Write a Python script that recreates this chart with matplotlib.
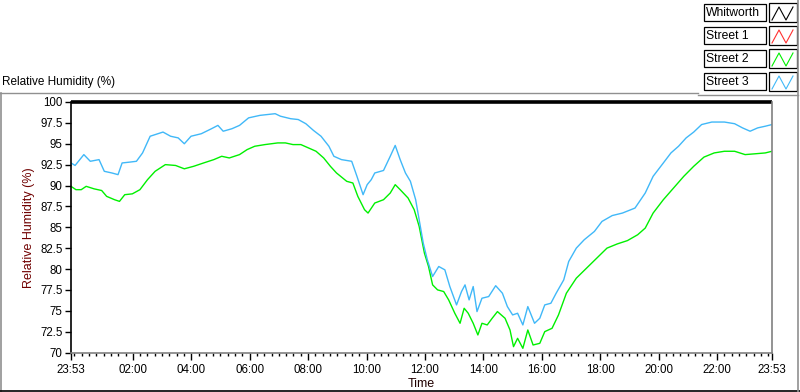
import matplotlib
matplotlib.use("Agg")
import matplotlib.pyplot as plt
from matplotlib.lines import Line2D
from matplotlib.patches import Rectangle

plt.rcParams["font.family"] = ["Liberation Sans", "DejaVu Sans"]
plt.rcParams["font.size"] = 8

# tempo em horas desde 23:53 (0 = 23:53, 24 = 23:53 do dia seguinte)
street3_t = [0.00, 0.14, 0.44, 0.66, 0.96, 1.14, 1.40, 1.61, 1.75, 2.01, 2.24, 2.45,
             2.71, 3.15, 3.41, 3.67, 3.88, 4.11, 4.46, 4.81, 5.03, 5.21, 5.51, 5.77,
             6.08, 6.47, 6.99, 7.17, 7.52, 7.78, 8.04, 8.30, 8.56, 8.83, 9.00, 9.26,
             9.61, 9.79, 10.00, 10.14, 10.28, 10.40, 10.70, 10.93, 11.10, 11.27, 11.45,
             11.62, 11.80, 11.92, 12.06, 12.20, 12.38, 12.59, 12.80, 12.97, 13.20, 13.37,
             13.49, 13.63, 13.77, 13.90, 14.07, 14.30, 14.54, 14.77, 14.94, 15.12, 15.29,
             15.47, 15.64, 15.87, 16.05, 16.22, 16.43, 16.61, 16.87, 17.04, 17.30, 17.57,
             17.92, 18.18, 18.53, 18.88, 19.31, 19.66, 19.93, 20.28, 20.54, 20.80, 21.06,
             21.32, 21.59, 21.94, 22.37, 22.72, 22.99, 23.25, 23.51, 23.77, 24.00]
street3_rh = [92.7, 92.4, 93.7, 92.9, 93.1, 91.7, 91.5, 91.3, 92.7, 92.8, 92.9, 93.9,
              95.9, 96.4, 95.9, 95.7, 95.0, 95.9, 96.2, 96.8, 97.2, 96.5, 96.8, 97.2,
              98.1, 98.4, 98.6, 98.3, 98.0, 97.9, 97.4, 96.6, 95.9, 94.7, 93.5, 93.1,
              92.9, 91.1, 88.9, 90.1, 90.7, 91.5, 91.8, 93.5, 94.8, 93.1, 91.5,
              90.5, 88.3, 85.9, 83.1, 81.1, 79.1, 80.3, 79.9, 77.9, 75.7, 77.3,
              78.1, 76.3, 77.9, 74.9, 76.5, 76.7, 78.0, 77.1, 75.5, 74.5, 74.7,
              73.3, 75.5, 73.5, 74.1, 75.7, 75.9, 77.1, 78.7, 80.9, 82.5, 83.5,
              84.5, 85.7, 86.4, 86.7, 87.3, 89.1, 91.1, 92.7, 93.9, 94.7, 95.7,
              96.4, 97.3, 97.6, 97.6, 97.4, 96.9, 96.5, 96.9, 97.1, 97.3]

street2_t = [0.00, 0.17, 0.35, 0.52, 0.79, 1.05, 1.22, 1.49, 1.66, 1.84, 2.10, 2.36,
             2.62, 2.88, 3.23, 3.58, 3.88, 4.20, 4.54, 4.89, 5.16, 5.42, 5.77, 6.03,
             6.29, 6.64, 7.08, 7.34, 7.60, 7.87, 8.13, 8.39, 8.65, 8.88, 9.09, 9.44,
             9.65, 9.82, 10.05, 10.17, 10.40, 10.70, 10.93, 11.10, 11.27, 11.54, 11.75,
             11.92, 12.10, 12.24, 12.38, 12.55, 12.76, 12.93, 13.14, 13.32, 13.46, 13.60,
             13.77, 13.93, 14.07, 14.25, 14.42, 14.60, 14.86, 15.03, 15.15, 15.29, 15.47,
             15.64, 15.82, 16.05, 16.22, 16.47, 16.69, 16.96, 17.30, 17.65, 18.00, 18.35,
             18.70, 19.05, 19.40, 19.66, 19.93, 20.28, 20.63, 20.98, 21.32, 21.67, 22.02,
             22.37, 22.72, 23.08, 23.43, 23.77, 24.00]
street2_rh = [89.9, 89.5, 89.5, 89.9, 89.6, 89.4, 88.7, 88.3, 88.1, 88.9, 89.0, 89.5,
              90.7, 91.7, 92.5, 92.4, 92.0, 92.3, 92.7, 93.1, 93.5, 93.3, 93.7, 94.3,
              94.7, 94.9, 95.1, 95.1, 94.9, 94.9, 94.5, 94.1, 93.3, 92.3, 91.5, 90.5,
              90.3, 88.7, 87.1, 86.7, 87.9, 88.3, 89.1, 90.1, 89.5, 88.5, 87.1,
              85.1, 81.9, 80.3, 78.1, 77.5, 77.3, 76.3, 74.7, 73.5, 75.3, 74.7,
              73.5, 72.1, 73.5, 73.3, 74.1, 74.9, 74.1, 72.7, 70.7, 71.7, 70.5,
              72.7, 70.9, 71.1, 72.5, 72.9, 74.5, 77.1, 78.9, 80.1, 81.3, 82.5,
              83.0, 83.4, 84.1, 84.9, 86.7, 88.3, 89.7, 91.1, 92.3, 93.4, 93.9,
              94.1, 94.1, 93.7, 93.8, 93.9, 94.1]

# Whitworth fica colado no topo (100%), Street 1 sem dados
whitworth_t = [0.0, 24.0]
whitworth_rh = [100.0, 100.0]

series_names = ["Whitworth", "Street 1", "Street 2", "Street 3"]
series_colors = ["#000000", "#ff3030", "#00f000", "#40b8f8"]

x_tick_pos = [0.0, 2.117, 4.117, 6.117, 8.117, 10.117, 12.117, 14.117,
              16.117, 18.117, 20.117, 22.117, 24.0]
x_tick_labels = ["23:53", "02:00", "04:00", "06:00", "08:00", "10:00", "12:00",
                 "14:00", "16:00", "18:00", "20:00", "22:00", "23:53"]
y_ticks = [70, 72.5, 75, 77.5, 80, 82.5, 85, 87.5, 90, 92.5, 95, 97.5, 100]

W, H = 800, 392


def fx(px):
    return px / W


def fy(py):
    return 1 - py / H


fig = plt.figure(figsize=(W / 100, H / 100), dpi=100)
ax = fig.add_axes([fx(71), fy(352.5), fx(701), 250.5 / H])

ax.plot(street2_t, street2_rh, color=series_colors[2], lw=1.0)
ax.plot(street3_t, street3_rh, color=series_colors[3], lw=1.0)
ax.plot(whitworth_t, whitworth_rh, color=series_colors[0], lw=2.6, clip_on=False,
        solid_capstyle="butt")

ax.set_xlim(0, 24)
ax.set_ylim(70, 100)
ax.set_xticks(x_tick_pos)
ax.set_xticklabels(x_tick_labels)
minor = [0.117 + 0.25 * i for i in range(96)]
minor = [m for m in minor if all(abs(m - p) > 0.01 for p in x_tick_pos)]
ax.set_xticks(minor, minor=True)
ax.set_yticks(y_ticks)
ax.set_yticklabels([f"{v:g}" for v in y_ticks])
ax.tick_params(axis="x", which="major", length=5, width=1, pad=3, labelsize=8.3)
ax.tick_params(axis="x", which="minor", length=2.5, width=1)
ax.tick_params(axis="y", which="major", length=4, width=1, pad=2, labelsize=8.3)

ax.spines["top"].set_visible(False)
ax.spines["left"].set_color("#000000")
ax.spines["bottom"].set_color("#808080")
ax.spines["right"].set_color("#808080")
for s in ax.spines.values():
    s.set_linewidth(1.2)

ax.set_xlabel("Time", fontsize=9, color="#200000", labelpad=2)
ax.set_ylabel("Relative Humidity (%)", fontsize=9, color="#700000", labelpad=4)

fig.text(fx(2), fy(82), "Relative Humidity (%)", fontsize=8.5, va="center", ha="left")

# moldura externa do gráfico
grey = "#909090"
fig.add_artist(Line2D([fx(0), fx(698)], [fy(92.5), fy(92.5)], color=grey, lw=1))
fig.add_artist(Line2D([fx(1), fx(1)], [fy(92.5), fy(392)], color=grey, lw=1.2))
fig.add_artist(Line2D([fx(0), fx(800)], [fy(391), fy(391)], color="#000000", lw=1.2))
fig.add_artist(Line2D([fx(798), fx(798)], [fy(0), fy(392)], color=grey, lw=1.2))
fig.add_artist(Line2D([fx(698), fx(798)], [fy(95), fy(95)], color=grey, lw=1))

# legenda no estilo LabVIEW
for i, (name, col) in enumerate(zip(series_names, series_colors)):
    top = 4 + 23 * i
    h = 17
    fig.add_artist(Rectangle((fx(704), fy(top + h)), fx(62), h / H, fill=True,
                             facecolor="white", edgecolor="#000000", lw=0.9))
    fig.add_artist(Rectangle((fx(769), fy(top + h + 1)), fx(28), (h + 2) / H,
                             fill=True, facecolor="white", edgecolor="#000000", lw=0.9))
    fig.text(fx(706), fy(top + h / 2 + 0.5), name, fontsize=8.7, va="center", ha="left")
    zx = [fx(772), fx(779), fx(786), fx(793)]
    zy = [fy(top + h - 1), fy(top + 3), fy(top + h - 1), fy(top + 3)]
    fig.add_artist(Line2D(zx, zy, color=col, lw=0.8))

fig.savefig("out.png", dpi=100)
